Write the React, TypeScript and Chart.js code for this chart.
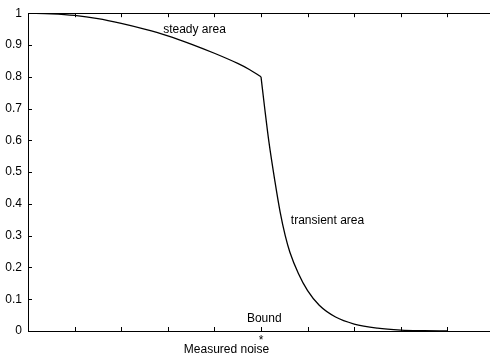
import { useEffect, useRef } from "react";
import { Chart, registerables } from "chart.js";

Chart.register(...registerables);

// Steady part of the curve: slow decline up to the bound.
const steadyNoise = [0, 0.5, 1, 1.5, 2, 2.5, 3, 3.5, 4, 4.5, 4.75, 5];
const steadyValue = [1, 0.998, 0.993, 0.983, 0.968, 0.95, 0.929, 0.903, 0.874, 0.842, 0.823, 0.8];

// Transient part: sharp drop past the bound towards zero.
const transientNoise = [5, 5.08, 5.17, 5.3, 5.41, 5.52, 5.62, 5.8, 6, 6.25, 6.6, 7, 7.5, 8, 8.5, 9];
const transientValue = [0.8, 0.7, 0.595, 0.47, 0.375, 0.3, 0.248, 0.182, 0.127, 0.081, 0.044, 0.022, 0.009, 0.003, 0.001, 0];

const yTickValues = [0, 0.1, 0.2, 0.3, 0.4, 0.5, 0.6, 0.7, 0.8, 0.9, 1];
const xTickValues = [0, 1, 2, 3, 4, 5, 6, 7, 8, 9, 10];
const boundValue = 5;
const boundMarker = "*";
const xAxisTitle = "Measured noise";
const regionLabels = ["steady area", "transient area", "Bound"];

const FONT = '"Liberation Sans", Arial, Helvetica, sans-serif';

// Draws the closed frame with inward tick marks and the text labels.
const framePlugin = {
  id: "frameAndLabels",
  afterDraw(chart: any) {
    const { ctx, chartArea } = chart;
    const xs = chart.scales.x;
    const ys = chart.scales.y;
    const { left, right, top, bottom } = chartArea;
    const tick = 4;
    ctx.save();
    ctx.strokeStyle = "#000";
    ctx.lineWidth = 1;
    ctx.beginPath();
    ctx.rect(Math.round(left) + 0.5, Math.round(top) + 0.5, Math.round(right - left), Math.round(bottom - top));
    for (const v of yTickValues) {
      const py = Math.round(ys.getPixelForValue(v)) + 0.5;
      ctx.moveTo(left, py);
      ctx.lineTo(left + tick, py);
      ctx.moveTo(right - tick, py);
      ctx.lineTo(right, py);
    }
    for (const v of xTickValues) {
      const px = Math.round(xs.getPixelForValue(v)) + 0.5;
      ctx.moveTo(px, bottom);
      ctx.lineTo(px, bottom - tick);
      ctx.moveTo(px, top);
      ctx.lineTo(px, top + tick);
    }
    ctx.stroke();

    ctx.fillStyle = "#000";
    ctx.font = `12px ${FONT}`;
    ctx.textBaseline = "middle";
    ctx.textAlign = "left";
    ctx.fillText(regionLabels[0], xs.getPixelForValue(2.9), ys.getPixelForValue(0.947));
    ctx.fillText(regionLabels[1], xs.getPixelForValue(5.64), ys.getPixelForValue(0.348));
    ctx.textAlign = "center";
    ctx.fillText(regionLabels[2], xs.getPixelForValue(boundValue + 0.07), ys.getPixelForValue(0.04));
    ctx.fillText(xAxisTitle, xs.getPixelForValue(4.26), bottom + 19);
    ctx.restore();
  },
};

const segment = (xs: number[], ys: number[]) => ({
  data: xs.map((x, i) => ({ x, y: ys[i] })),
  borderColor: "#000",
  borderWidth: 1.3,
  pointRadius: 0,
  cubicInterpolationMode: "monotone" as const,
  fill: false,
});

export default function App() {
  const canvasRef = useRef<HTMLCanvasElement | null>(null);

  useEffect(() => {
    const canvas = canvasRef.current;
    if (!canvas) return;
    const chart = new Chart(canvas, {
      type: "line",
      data: {
        datasets: [segment(steadyNoise, steadyValue), segment(transientNoise, transientValue)],
      },
      options: {
        animation: false,
        responsive: false,
        devicePixelRatio: 1,
        layout: { padding: { top: 9, right: 6, left: 0, bottom: 0 } },
        plugins: {
          legend: { display: false },
          tooltip: { enabled: false },
        },
        scales: {
          x: {
            type: "linear",
            min: 0,
            max: 10,
            grid: { display: false, drawTicks: false },
            border: { display: false },
            afterFit: (scale: any) => {
              scale.height = 31;
            },
            afterBuildTicks: (scale: any) => {
              scale.ticks = xTickValues.map((value) => ({ value }));
            },
            ticks: {
              autoSkip: false,
              maxRotation: 0,
              padding: 2,
              color: "#000",
              font: { family: FONT, size: 12 },
              callback: (v: any) => (Number(v) === boundValue ? boundMarker : ""),
            },
          },
          y: {
            type: "linear",
            min: 0,
            max: 1,
            grid: { display: false, drawTicks: false },
            border: { display: false },
            afterFit: (scale: any) => {
              scale.width = 28;
            },
            afterBuildTicks: (scale: any) => {
              scale.ticks = yTickValues.map((value) => ({ value }));
            },
            ticks: {
              padding: 6,
              color: "#000",
              font: { family: FONT, size: 12 },
              callback: (v: any) => String(Math.round(Number(v) * 10) / 10),
            },
          },
        },
      },
      plugins: [framePlugin],
    });
    return () => chart.destroy();
  }, []);

  return (
    <div
      style={{
        position: "fixed",
        left: 0,
        top: 0,
        width: 490,
        height: 362,
        overflow: "hidden",
        background: "#fff",
      }}
    >
      <canvas ref={canvasRef} width={500} height={362} style={{ display: "block" }} />
    </div>
  );
}
